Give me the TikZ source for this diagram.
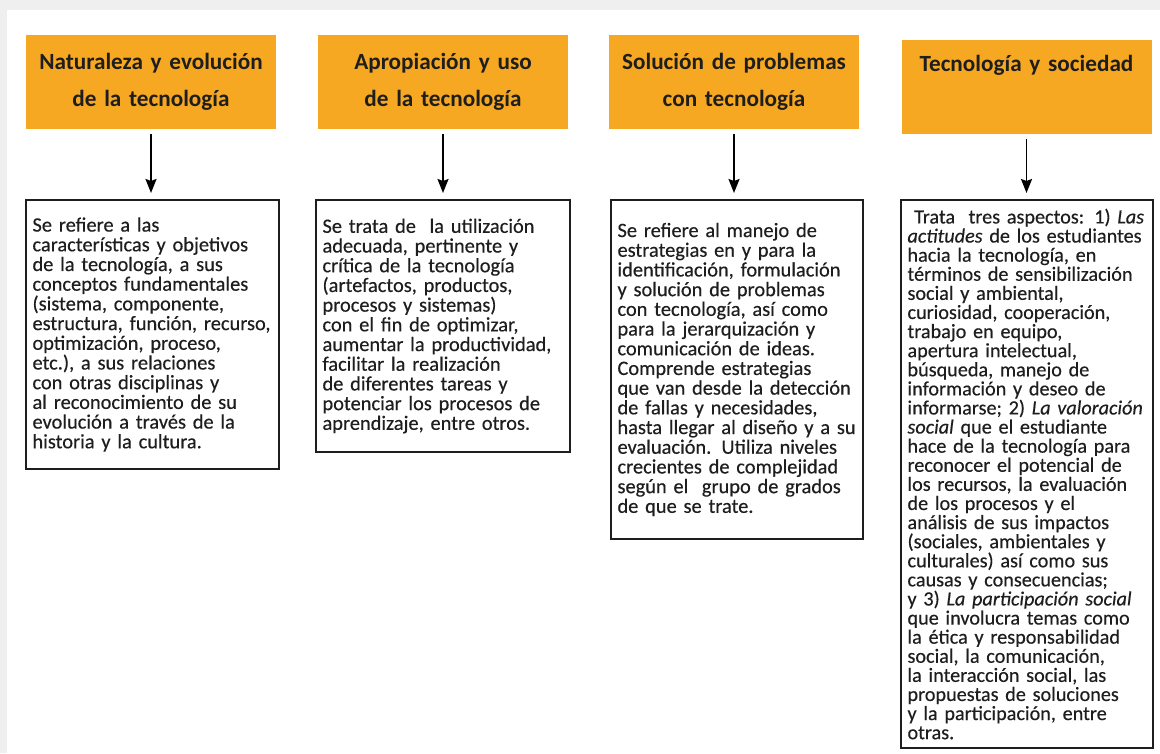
\documentclass[tikz,border=0pt]{standalone}
\usepackage{fontspec}
\setmainfont{Carlito}
\newfontfamily\bodyfont[FakeBold=0.35]{Carlito}
\usetikzlibrary{arrows.meta,positioning}
\definecolor{ink}{HTML}{1E1E1E}
\definecolor{band}{HTML}{F6A823}
\definecolor{page}{HTML}{EFEFEF}

\begin{document}
\begin{tikzpicture}[
  x=1pt, y=-1pt,
  head/.style={fill=band, minimum width=250pt, minimum height=94pt, inner sep=0pt,
    text width=246pt, align=center, text=ink,
    font=\bfseries\fontsize{23.2}{37}\selectfont},
  info/.style={draw=ink, line width=2pt, inner sep=6.5pt, anchor=north west,
    align=left, text=ink, font=\bodyfont\fontsize{20.4}{19.7}\selectfont},
  flow/.style={-{Stealth[length=14pt,width=11pt,inset=2pt]}, draw=black, line width=1.8pt,
    shorten <=5pt, shorten >=6pt}
]
  % page and card
  \fill[page] (0,0) rectangle (1160,753);
  \fill[white] (7,10) rectangle (1160,753);
  \useasboundingbox (0,0) rectangle (1160,753);

  \node[head] (nat) at (151,82) {Naturaleza y evolución\\de la tecnología};
  \node[head] (apr) at (443,82) {Apropiación y uso\\de la tecnología};
  \node[head] (sol) at (734,82) {Solución de problemas\\con tecnología};
  \node[head] (soc) at (1026.5,87) {Tecnología y sociedad\\\strut};

  \node[info, text width=240pt, minimum height=269pt] (natx) at (25,199)
    {Se refiere a las\\
     características y objetivos\\
     de la tecnología, a sus\\
     conceptos fundamentales\\
     (sistema, componente,\\
     estructura, función, recurso,\\
     optimización, proceso,\\
     etc.), a sus relaciones\\
     con otras disciplinas y\\
     al reconocimiento de su\\
     evolución a través de la\\
     historia y la cultura.};
  \node[info, text width=241pt, minimum height=252pt] (aprx) at (315,199)
    {Se trata de \ la utilización\\
     adecuada, pertinente y\\
     crítica de la tecnología\\
     (artefactos, productos,\\
     procesos y sistemas)\\
     con el fin de optimizar,\\
     aumentar la productividad,\\
     facilitar la realización\\
     de diferentes tareas y\\
     potenciar los procesos de\\
     aprendizaje, entre otros.};
  \node[info, text width=239pt, minimum height=339pt] (solx) at (610,199)
    {Se refiere al manejo de\\
     estrategias en y para la\\
     identificación, formulación\\
     y solución de problemas\\
     con tecnología, así como\\
     para la jerarquización y\\
     comunicación de ideas.\\
     Comprende estrategias\\
     que van desde la detección\\
     de fallas y necesidades,\\
     hasta llegar al diseño y a su\\
     evaluación. Utiliza niveles\\
     crecientes de complejidad\\
     según el \ grupo de grados\\
     de que se trate.};
  \node[info, text width=239pt, minimum height=548pt,
    font=\bodyfont\fontsize{20.2}{19.1}\selectfont] (socx) at (900,199)
    {\ Trata \ tres aspectos: 1) \textit{Las}\\
     \textit{actitudes} de los estudiantes\\
     hacia la tecnología, en\\
     términos de sensibilización\\
     social y ambiental,\\
     curiosidad, cooperación,\\
     trabajo en equipo,\\
     apertura intelectual,\\
     búsqueda, manejo de\\
     información y deseo de\\
     informarse; 2) \textit{La valoración}\\
     \textit{social} que el estudiante\\
     hace de la tecnología para\\
     reconocer el potencial de\\
     los recursos, la evaluación\\
     de los procesos y el\\
     análisis de sus impactos\\
     (sociales, ambientales y\\
     culturales) así como sus\\
     causas y consecuencias;\\
     y 3) \textit{La participación social}\\
     que involucra temas como\\
     la ética y responsabilidad\\
     social, la comunicación,\\
     la interacción social, las\\
     propuestas de soluciones\\
     y la participación, entre\\
     otras.};

  \draw[flow] (nat.south) -- (nat.south |- natx.north);
  \draw[flow] (apr.south) -- (apr.south |- aprx.north);
  \draw[flow] (sol.south) -- (sol.south |- solx.north);
  \draw[flow] (soc.south) -- (soc.south |- socx.north);
\end{tikzpicture}
\end{document}
